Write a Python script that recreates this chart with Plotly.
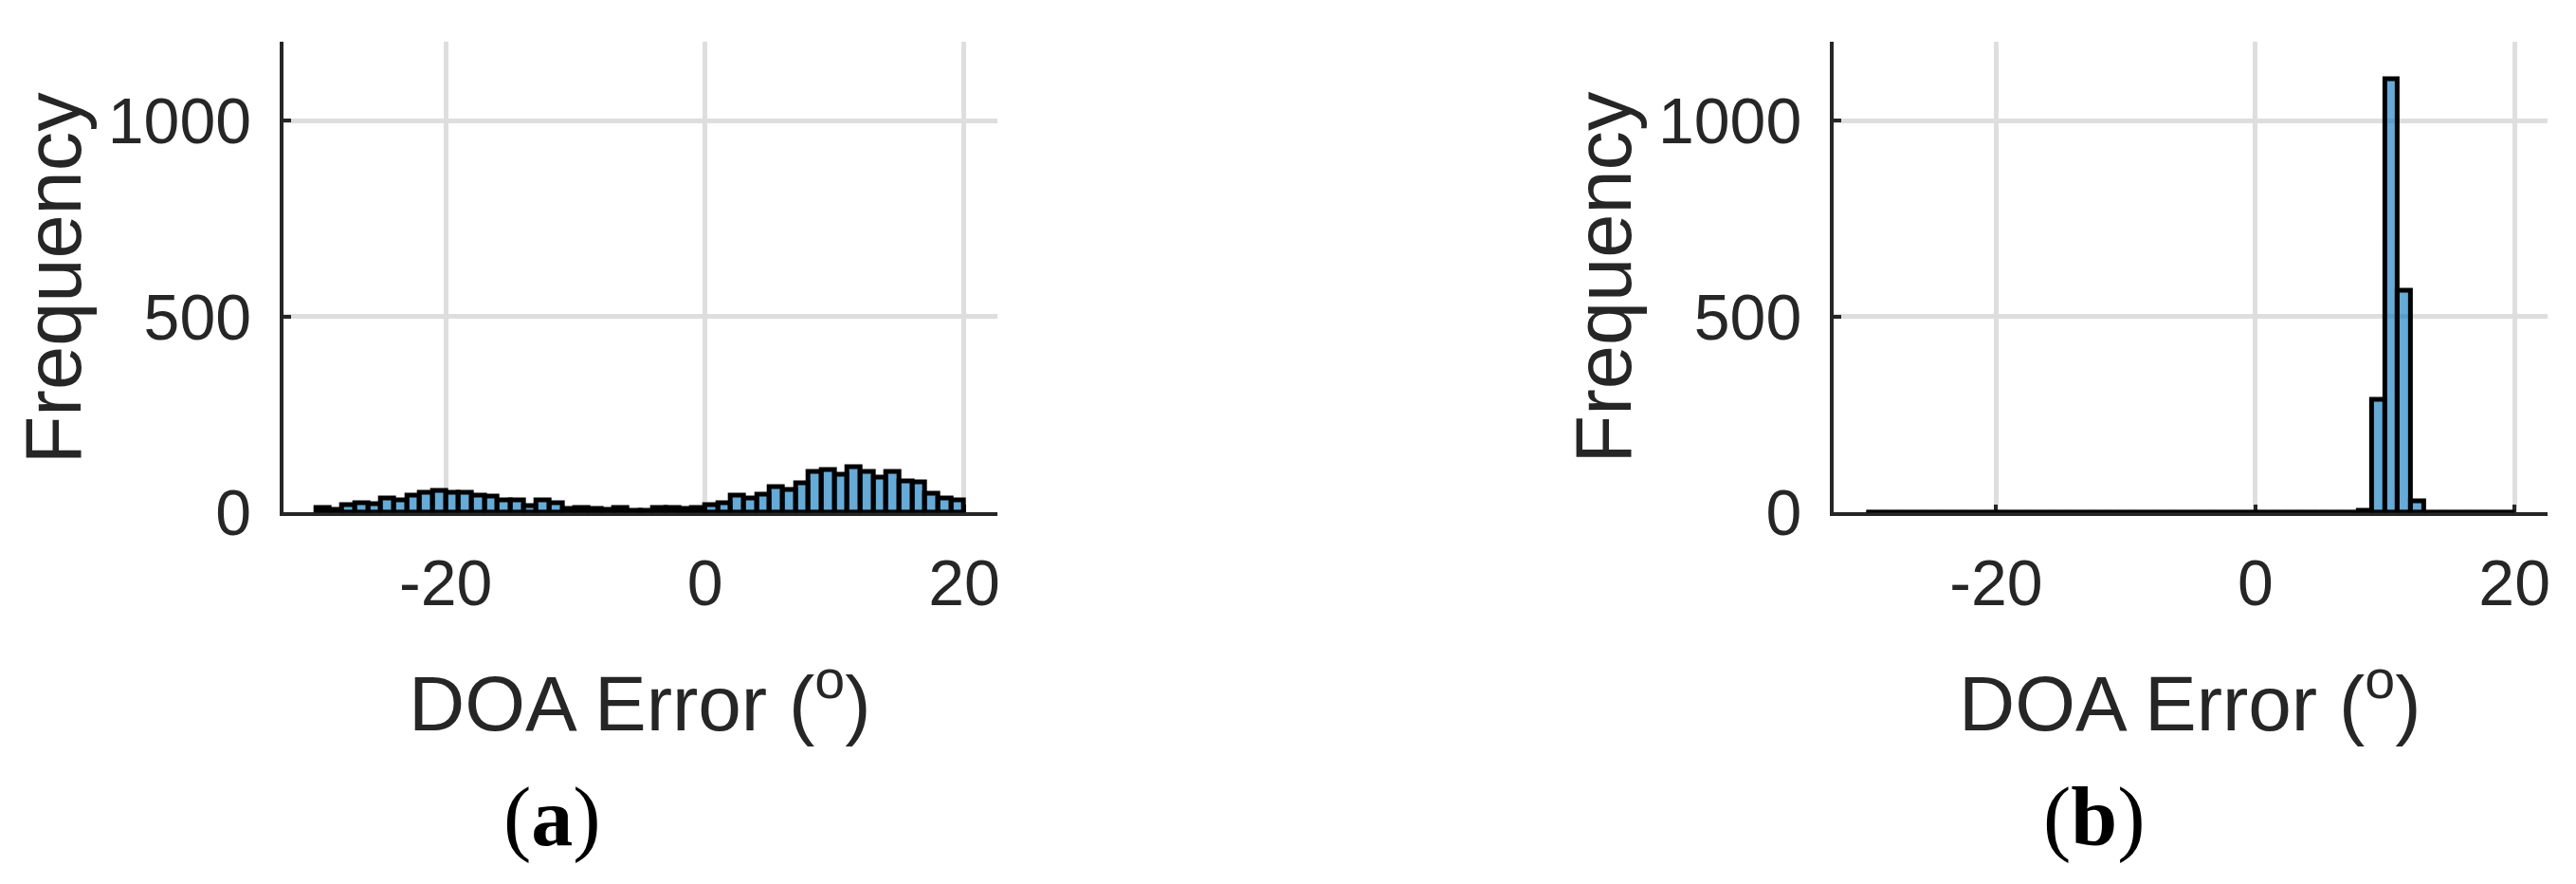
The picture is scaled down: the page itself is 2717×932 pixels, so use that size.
import plotly.graph_objects as go

# ---- data ----
bin_edges = list(range(-30, 21))  # 1-degree bins from -30 to 20
counts_a = [12, 8, 20, 25, 22, 37, 31, 44, 50, 55,
            50, 50, 44, 41, 31, 31, 17, 32, 23, 9,
            11, 9, 6, 11, 4, 4, 11, 11, 9, 11,
            20, 25, 44, 37, 46, 65, 59, 74, 103, 109,
            96, 115, 103, 90, 103, 80, 78, 48, 37, 31]
counts_b = [0] * 38 + [5, 287, 1106, 566, 30] + [0] * 7
x_ticks = [-20, 0, 20]
x_tick_text = ["-20", "0", "20"]
y_ticks = [0, 500, 1000]
x_title = "DOA Error (<sup>o</sup>)"
y_title = "Frequency"
panel_labels = ["(<b>a</b>)", "(<b>b</b>)"]

centers = [(bin_edges[i] + bin_edges[i + 1]) / 2 for i in range(len(bin_edges) - 1)]
widths = [bin_edges[i + 1] - bin_edges[i] for i in range(len(bin_edges) - 1)]

W, H = 2717, 932
TXT = "#262626"
FILL = "rgba(0,114,189,0.6)"
SANS = "Liberation Sans, Arial, sans-serif"

fig = go.Figure()

for i, counts in enumerate([counts_a, counts_b]):
    xa = "x" if i == 0 else "x2"
    ya = "y" if i == 0 else "y2"
    # baseline of (zero-height) bins drawn in edge colour
    fig.add_trace(go.Scatter(x=[bin_edges[0], bin_edges[-1]], y=[0, 0], mode="lines",
                             line=dict(color="black", width=5), xaxis=xa, yaxis=ya,
                             showlegend=False, hoverinfo="skip"))
    fig.add_trace(go.Bar(x=centers, y=counts, width=widths,
                         marker=dict(color=FILL, line=dict(color="black", width=5)),
                         xaxis=xa, yaxis=ya, showlegend=False))

px_x = lambda p: p / W
px_y = lambda p: 1 - p / H

doms = [[px_x(291), px_x(1045)], [px_x(1928), px_x(2682)]]
ydom = [px_y(555), px_y(38)]

axis_common = dict(showline=True, linecolor=TXT, linewidth=4, ticks="inside", ticklen=8,
                   tickwidth=4, tickcolor=TXT, showgrid=True, gridcolor="#dedede", gridwidth=5,
                   zeroline=False, layer="below traces",
                   tickfont=dict(family=SANS, size=68, color=TXT))

for i in range(2):
    sx = "" if i == 0 else "2"
    fig.update_layout(**{
        "xaxis" + sx: dict(axis_common, domain=doms[i], range=[-32.55, 22.55],
                           tickvals=x_ticks, ticktext=x_tick_text, ticklabelstandoff=12,
                           anchor="y" + sx),
        "yaxis" + sx: dict(axis_common, domain=ydom, range=[0, 1200],
                           tickvals=y_ticks, ticklabelstandoff=16,
                           anchor="x" + sx),
    })

ann = []
for i in range(2):
    x0, x1 = doms[i]
    # x-axis title
    ann.append(dict(text=x_title, x=(x0 + x1) / 2, y=px_y(758), xref="paper", yref="paper",
                    xanchor="center", yanchor="middle", showarrow=False,
                    font=dict(family=SANS, size=82, color=TXT)))
    # y-axis title
    yx = 48 if i == 0 else 48 + 1637
    ann.append(dict(text=y_title, x=px_x(yx), y=(ydom[0] + ydom[1]) / 2, xref="paper", yref="paper",
                    xanchor="center", yanchor="middle", textangle=-90, showarrow=False,
                    font=dict(family=SANS, size=83, color=TXT)))
    # panel label
    lx = 575 if i == 0 else 2203
    ann.append(dict(text=panel_labels[i], x=px_x(lx), y=px_y(890), xref="paper", yref="paper",
                    xanchor="center", yanchor="middle", showarrow=False,
                    font=dict(family="Liberation Serif, Times New Roman, serif", size=88, color="black")))

fig.update_layout(width=W, height=H, autosize=False, margin=dict(l=0, r=0, t=0, b=0),
                  paper_bgcolor="white", plot_bgcolor="white", barmode="overlay",
                  bargap=0, annotations=ann)

fig.write_html("out.html")
